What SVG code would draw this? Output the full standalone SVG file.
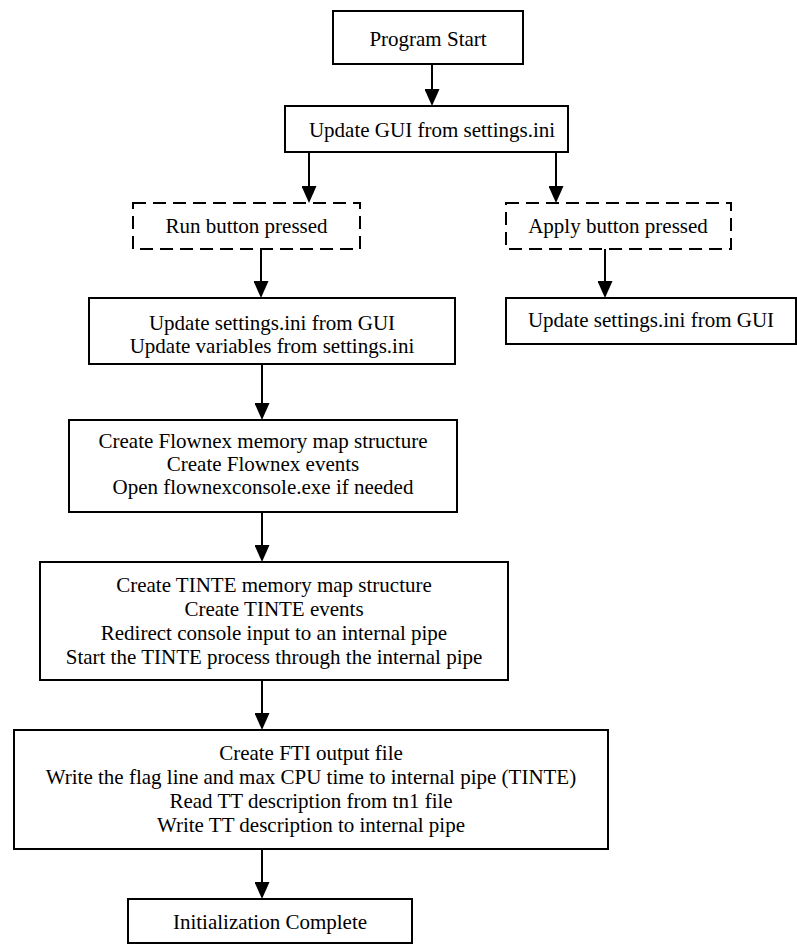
<svg xmlns="http://www.w3.org/2000/svg" width="797" height="945" viewBox="0 0 797 945">
<style>
  .box { fill: #fff; stroke: #000; stroke-width: 2; }
  .dash { fill: #fff; stroke: #000; stroke-width: 2; stroke-dasharray: 13 7; }
  .t { font-family: "Liberation Serif", "Times New Roman", serif; font-size: 21px; fill: #000; text-anchor: middle; }
  .c { stroke: #000; stroke-width: 2; fill: none; marker-end: url(#ah); }
</style>
<defs>
  <marker id="ah" markerUnits="userSpaceOnUse" markerWidth="17" markerHeight="15" viewBox="0 0 17 15" refX="15" refY="7.5" orient="auto">
    <path d="M0,0 L17,7.5 L0,15 z" fill="#000"/>
  </marker>
</defs>
<rect width="797" height="945" fill="#fff"/>
<g id="connectors">
  <line class="c" x1="432" y1="64" x2="432" y2="104"/>
  <line class="c" x1="309" y1="152" x2="309" y2="201"/>
  <line class="c" x1="556" y1="152" x2="556" y2="201"/>
  <line class="c" x1="261" y1="249" x2="261" y2="296"/>
  <line class="c" x1="605" y1="249" x2="605" y2="296"/>
  <line class="c" x1="262" y1="364" x2="262" y2="418"/>
  <line class="c" x1="262" y1="512" x2="262" y2="560"/>
  <line class="c" x1="262" y1="680" x2="262" y2="728"/>
  <line class="c" x1="262" y1="849" x2="262" y2="897"/>
</g>
<g id="start">
  <rect class="box" x="333" y="11" width="190" height="53"/>
  <text class="t" x="428" y="46">Program Start</text>
</g>
<g id="gui">
  <rect class="box" x="285" y="106" width="283" height="46"/>
  <text class="t" x="432" y="137">Update GUI from settings.ini</text>
</g>
<g id="run">
  <rect class="dash" x="133" y="203" width="227" height="46"/>
  <text class="t" x="246.5" y="233">Run button pressed</text>
</g>
<g id="apply">
  <rect class="dash" x="506" y="203" width="225" height="46"/>
  <text class="t" x="618" y="233">Apply button pressed</text>
</g>
<g id="update-run">
  <rect class="box" x="89" y="298" width="366" height="66"/>
  <text class="t" x="272" y="330">Update settings.ini from GUI</text>
  <text class="t" x="272" y="353">Update variables from settings.ini</text>
</g>
<g id="update-apply">
  <rect class="box" x="506" y="298" width="290" height="46"/>
  <text class="t" x="651" y="327">Update settings.ini from GUI</text>
</g>
<g id="flownex">
  <rect class="box" x="69" y="420" width="388" height="92"/>
  <text class="t" x="263" y="448">Create Flownex memory map structure</text>
  <text class="t" x="263" y="471">Create Flownex events</text>
  <text class="t" x="263" y="494">Open flownexconsole.exe if needed</text>
</g>
<g id="tinte">
  <rect class="box" x="40" y="562" width="468" height="118"/>
  <text class="t" x="274" y="592">Create TINTE memory map structure</text>
  <text class="t" x="274" y="616">Create TINTE events</text>
  <text class="t" x="274" y="640">Redirect console input to an internal pipe</text>
  <text class="t" x="274" y="664">Start the TINTE process through the internal pipe</text>
</g>
<g id="fti">
  <rect class="box" x="14" y="730" width="594" height="119"/>
  <text class="t" x="311" y="760">Create FTI output file</text>
  <text class="t" x="311" y="784">Write the flag line and max CPU time to internal pipe (TINTE)</text>
  <text class="t" x="311" y="808">Read TT description from tn1 file</text>
  <text class="t" x="311" y="832">Write TT description to internal pipe</text>
</g>
<g id="init">
  <rect class="box" x="128" y="899" width="284" height="44"/>
  <text class="t" x="270" y="929">Initialization Complete</text>
</g>
</svg>
